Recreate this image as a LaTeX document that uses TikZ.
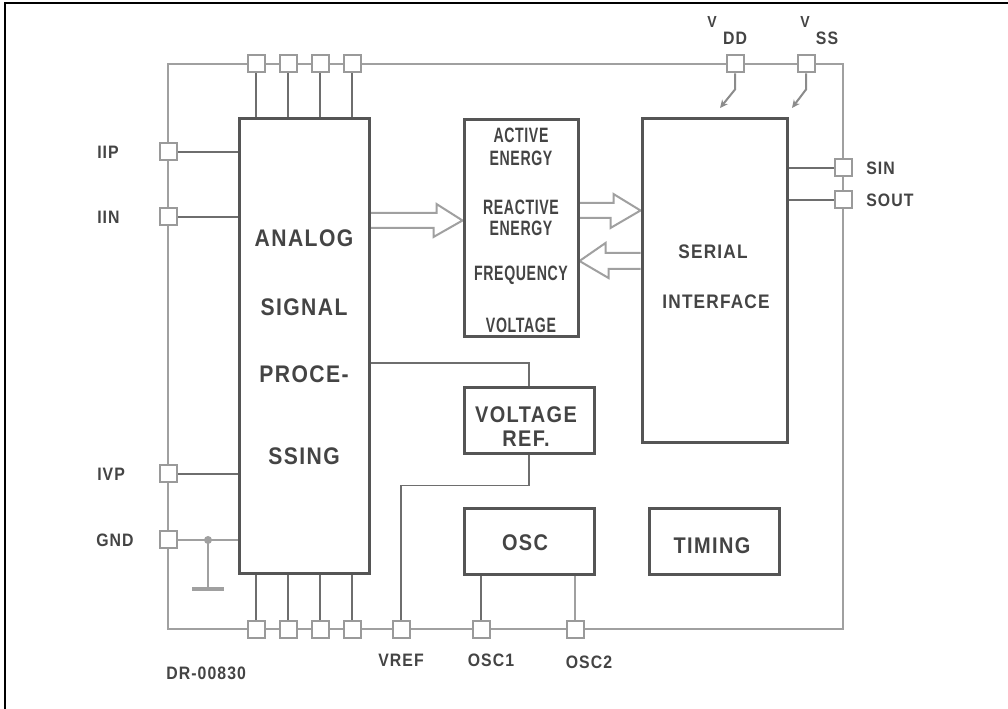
\documentclass[tikz,border=0pt]{standalone}
\usepackage{fontspec}
\setmainfont{Liberation Sans}
\newfontfamily\lb{Liberation Sans Bold}[FakeStretch=0.88,LetterSpace=6]
\newfontfamily\lbn{Liberation Sans Bold}[FakeStretch=0.68,LetterSpace=3]
\usetikzlibrary{arrows.meta}
\definecolor{tc}{HTML}{444444}
\definecolor{boxc}{HTML}{555555}
\definecolor{busc}{HTML}{A0A0A0}
\definecolor{padc}{HTML}{9A9A9A}
\definecolor{wirec}{HTML}{6E6E6E}
\pgfdeclarelayer{bg}
\pgfsetlayers{bg,main}
\tikzset{
  txt/.style={text=tc, inner sep=0pt},
  pad/.style={draw=padc, fill=white, line width=1.5pt, minimum size=12.75pt, inner sep=0pt},
  blk/.style={draw=boxc, line width=2.25pt, inner sep=0pt, fill=white},
  bus/.style={draw=busc, line width=1.1pt},
  wire/.style={draw=wirec, line width=1.1pt},
  harr/.style={draw=busc, line width=1.5pt, line join=miter},
  pwr/.style={draw=wirec!80, line width=1.5pt, -{Stealth[length=6pt,width=5.5pt]}},
}
\begin{document}
\begin{tikzpicture}[x=0.75pt,y=-0.75pt]
\begin{pgfonlayer}{bg}
\fill[white] (0,0) rectangle (1008,709);
\end{pgfonlayer}
\useasboundingbox (0,0) rectangle (1008,709);
\draw[black,line width=1.5pt] (5,709) -- (5,3) -- (1008,3);

% bus ring
\coordinate (bl) at (168,629);
\coordinate (tr) at (843,64);
\begin{pgfonlayer}{bg}
\draw[bus] (bl) rectangle (tr);
\end{pgfonlayer}

% blocks
\node[blk, minimum width=130*0.75pt, minimum height=454*0.75pt] (asp) at (304,346) {};
\node[blk, minimum width=114*0.75pt, minimum height=217*0.75pt] (meas) at (521,228.5) {};
\node[blk, minimum width=145*0.75pt, minimum height=324*0.75pt] (ser) at (714.5,281) {};
\node[blk, minimum width=130*0.75pt, minimum height=66*0.75pt] (vrefb) at (529,421) {};
\node[blk, minimum width=130*0.75pt, minimum height=65*0.75pt] (osc) at (529,541.5) {};
\node[blk, minimum width=130*0.75pt, minimum height=65*0.75pt] (tim) at (714,541.5) {};

% block texts
\begin{scope}[every node/.style={txt, font=\lb\fontsize{18pt}{20pt}\selectfont}]
\node (t-analog) at (304,238) {ANALOG};
\node (t-signal) at (304,307) {SIGNAL};
\node (t-proce) at (304,374) {PROCE-};
\node (t-ssing) at (304,456) {SSING};
\end{scope}
\begin{scope}[every node/.style={txt, font=\lbn\fontsize{15.6pt}{17pt}\selectfont}]
\node (t-act) at (521,135) {ACTIVE};
\node (t-en1) at (521,158) {ENERGY};
\node (t-rea) at (521,207) {REACTIVE};
\node (t-en2) at (521,228) {ENERGY};
\node (t-freq) at (521,275) {FREQUENCY};
\node (t-volt) at (521,325) {VOLTAGE};
\end{scope}
\begin{scope}[every node/.style={txt, font=\lb\fontsize{14.7pt}{16pt}\selectfont}]
\node (t-serial) at (713,252) {SERIAL};
\node (t-intf) at (716,302) {INTERFACE};
\end{scope}
\begin{scope}[every node/.style={txt, font=\lb\fontsize{17pt}{19pt}\selectfont}]
\node (t-vr1) at (526,415) {VOLTAGE};
\node (t-vr2) at (526,439) {REF.};
\node (t-osc) at (525,543) {OSC};
\node (t-tim) at (712,546) {TIMING};
\end{scope}

% hollow arrows
\begin{pgfonlayer}{bg}
\draw[harr] (asp.east |- 0,213) -- ++(66,0) -- ++(0,-9) -- (meas.west |- 0,220.5) -- ++(-29,16.5) -- ++(0,-9) -- (asp.east |- 0,228);
\draw[harr] (meas.east |- 0,203) -- ++(34,0) -- ++(0,-9) -- (ser.west |- 0,210.5) -- ++(-30,17.5) -- ++(0,-10) -- (meas.east |- 0,218);
\draw[harr] (ser.west |- 0,253) -- ++(-35,0) -- ++(0,-10) -- (meas.east |- 0,261) -- ++(29,17) -- ++(0,-9) -- (ser.west |- 0,269);
\end{pgfonlayer}

% pads
\foreach \n/\x in {t1/256,t2/288,t3/320,t4/352}{\node[pad] (\n) at (\x,64) {};}
\foreach \n/\x in {b1/256,b2/288,b3/320,b4/352}{\node[pad] (\n) at (\x,629) {};}
\node[pad] (vdd) at (735,64) {};
\node[pad] (vss) at (806,64) {};
\node[pad] (iip) at (168,152) {};
\node[pad] (iin) at (168,217) {};
\node[pad] (ivp) at (168,474) {};
\node[pad] (gnd) at (168,540) {};
\node[pad] (sin) at (843,168) {};
\node[pad] (sout) at (843,200) {};
\node[pad] (vrefp) at (401,629) {};
\node[pad] (osc1) at (481,629) {};
\node[pad] (osc2) at (575,629) {};

% wires
\begin{pgfonlayer}{bg}
\foreach \n in {t1,t2,t3,t4}{\draw[wire] (\n.south) -- (\n.south |- asp.north);}
\foreach \n in {b1,b2,b3,b4}{\draw[wire] (\n.north) -- (\n.north |- asp.south);}
\foreach \n in {iip,iin,ivp}{\draw[wire] (\n.east) -- (\n.east -| asp.west);}
\draw[bus] (gnd.east) -- (gnd.east -| asp.west);
\foreach \n in {sin,sout}{\draw[wire] (\n.west) -- (\n.west -| ser.east);}
\draw[wire] (asp.east |- 0,363) -| (vrefb.north);
\draw[wire] (vrefb.south) -- ++(0,30) -| (vrefp.north);
\draw[wire] (osc1.north |- osc.south) -- (osc1.north);
\draw[bus] (osc2.north |- osc.south) -- (osc2.north);
\end{pgfonlayer}

% ground
\coordinate (gj) at (208,540);
\draw[bus] (gj) -- ++(0,49) coordinate (gb);
\draw[busc, line width=2.5pt] (gb) ++(-16,0) -- ++(32,0);
\fill[busc] (gj) circle[radius=3pt];

% supply arrows
\coordinate (vddtip) at (720,108);
\coordinate (vsstip) at (792,108);
\draw[pwr] (vdd.south) -- ++(0,16) -- (vddtip);
\draw[pwr] (vss.south) -- ++(0,16) -- (vsstip);

% pin labels
\begin{scope}[every node/.style={txt, font=\lb\fontsize{13.5pt}{15pt}\selectfont}]
\node[anchor=west] (l-iip) at (97,152) {IIP};
\node[anchor=west] (l-iin) at (97,217) {IIN};
\node[anchor=west] (l-ivp) at (97,474) {IVP};
\node[anchor=west] (l-gnd) at (96,540) {GND};
\node[anchor=west] (l-sin) at (866,168) {SIN};
\node[anchor=west] (l-sout) at (866,200) {SOUT};
\node (l-vref) at (401,660) {VREF};
\node (l-osc1) at (491,660) {OSC1};
\node (l-osc2) at (589,662) {OSC2};
\node[anchor=west] (l-dr) at (166,673) {DR-00830};
\end{scope}
\begin{scope}[every node/.style={txt, font=\lb\fontsize{12pt}{14pt}\selectfont}]
\node (l-v1) at (712,22) {V};
\node (l-v2) at (805,22) {V};
\end{scope}
\begin{scope}[every node/.style={txt, font=\lb\fontsize{13.5pt}{15pt}\selectfont}]
\node (l-dd) at (735,38) {DD};
\node (l-ss) at (827,38) {SS};
\end{scope}
\end{tikzpicture}
\end{document}
